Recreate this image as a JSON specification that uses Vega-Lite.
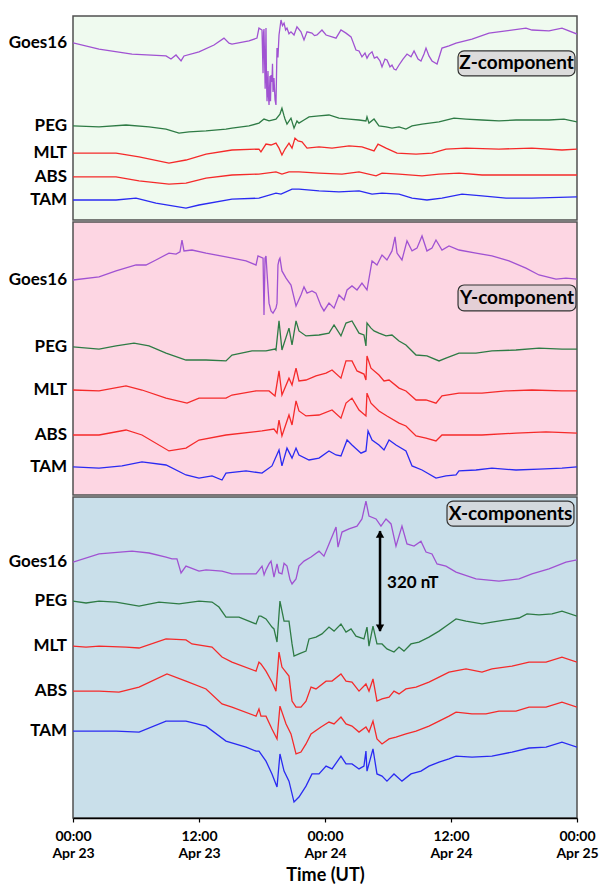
{
  "$schema": "https://vega.github.io/schema/vega-lite/v6.json",
  "padding": {"left": 7, "top": 15, "right": 0, "bottom": 2},
  "background": "white",
  "spacing": 0,
  "config": {
    "font": "Lato",
    "view": {"stroke": "#505050", "strokeWidth": 1.5}
  },
  "datasets": {
    "tags": [
      {"comp": "Z", "tag": "Z-component"},
      {"comp": "Y", "tag": "Y-component"},
      {"comp": "X", "tag": "X-components"}
    ],
    "span": [
      {"low": 598, "high": 918, "label": "320 nT"}
    ]
  },
  "data": {"values": [
    {"comp":"Z","station":"Goes16","hour":0,"nT":567},{"comp":"Z","station":"Goes16","hour":2.48,"nT":547},{"comp":"Z","station":"Goes16","hour":5.62,"nT":531},{"comp":"Z","station":"Goes16","hour":8.86,"nT":525},{"comp":"Z","station":"Goes16","hour":9.33,"nT":515},{"comp":"Z","station":"Goes16","hour":9.81,"nT":528},{"comp":"Z","station":"Goes16","hour":10.29,"nT":509},{"comp":"Z","station":"Goes16","hour":10.57,"nT":525},{"comp":"Z","station":"Goes16","hour":12.0,"nT":538},{"comp":"Z","station":"Goes16","hour":13.43,"nT":560},{"comp":"Z","station":"Goes16","hour":14.38,"nT":582},{"comp":"Z","station":"Goes16","hour":14.86,"nT":566},{"comp":"Z","station":"Goes16","hour":15.14,"nT":563},{"comp":"Z","station":"Goes16","hour":16.76,"nT":573},{"comp":"Z","station":"Goes16","hour":17.52,"nT":582},{"comp":"Z","station":"Goes16","hour":17.71,"nT":614},{"comp":"Z","station":"Goes16","hour":18.0,"nT":608},{"comp":"Z","station":"Goes16","hour":18.1,"nT":470},{"comp":"Z","station":"Goes16","hour":18.15,"nT":600},{"comp":"Z","station":"Goes16","hour":18.19,"nT":611},{"comp":"Z","station":"Goes16","hour":18.3,"nT":420},{"comp":"Z","station":"Goes16","hour":18.38,"nT":614},{"comp":"Z","station":"Goes16","hour":18.43,"nT":445},{"comp":"Z","station":"Goes16","hour":18.48,"nT":380},{"comp":"Z","station":"Goes16","hour":18.57,"nT":477},{"comp":"Z","station":"Goes16","hour":18.62,"nT":395},{"comp":"Z","station":"Goes16","hour":18.67,"nT":368},{"comp":"Z","station":"Goes16","hour":18.76,"nT":461},{"comp":"Z","station":"Goes16","hour":18.81,"nT":380},{"comp":"Z","station":"Goes16","hour":18.86,"nT":464},{"comp":"Z","station":"Goes16","hour":18.95,"nT":442},{"comp":"Z","station":"Goes16","hour":19.0,"nT":500},{"comp":"Z","station":"Goes16","hour":19.05,"nT":410},{"comp":"Z","station":"Goes16","hour":19.14,"nT":454},{"comp":"Z","station":"Goes16","hour":19.24,"nT":385},{"comp":"Z","station":"Goes16","hour":19.33,"nT":368},{"comp":"Z","station":"Goes16","hour":19.43,"nT":550},{"comp":"Z","station":"Goes16","hour":19.52,"nT":520},{"comp":"Z","station":"Goes16","hour":19.62,"nT":592},{"comp":"Z","station":"Goes16","hour":19.81,"nT":640},{"comp":"Z","station":"Goes16","hour":19.95,"nT":622},{"comp":"Z","station":"Goes16","hour":20.10,"nT":630},{"comp":"Z","station":"Goes16","hour":20.25,"nT":608},{"comp":"Z","station":"Goes16","hour":20.38,"nT":614},{"comp":"Z","station":"Goes16","hour":20.57,"nT":596},{"comp":"Z","station":"Goes16","hour":20.76,"nT":602},{"comp":"Z","station":"Goes16","hour":21.05,"nT":592},{"comp":"Z","station":"Goes16","hour":21.33,"nT":618},{"comp":"Z","station":"Goes16","hour":21.71,"nT":602},{"comp":"Z","station":"Goes16","hour":22.0,"nT":576},{"comp":"Z","station":"Goes16","hour":22.29,"nT":602},{"comp":"Z","station":"Goes16","hour":22.76,"nT":598},{"comp":"Z","station":"Goes16","hour":23.0,"nT":590},{"comp":"Z","station":"Goes16","hour":23.24,"nT":592},{"comp":"Z","station":"Goes16","hour":23.71,"nT":608},{"comp":"Z","station":"Goes16","hour":24.10,"nT":592},{"comp":"Z","station":"Goes16","hour":24.67,"nT":586},{"comp":"Z","station":"Goes16","hour":25.05,"nT":582},{"comp":"Z","station":"Goes16","hour":25.52,"nT":608},{"comp":"Z","station":"Goes16","hour":26.0,"nT":598},{"comp":"Z","station":"Goes16","hour":26.48,"nT":586},{"comp":"Z","station":"Goes16","hour":26.95,"nT":544},{"comp":"Z","station":"Goes16","hour":27.24,"nT":541},{"comp":"Z","station":"Goes16","hour":27.52,"nT":522},{"comp":"Z","station":"Goes16","hour":27.81,"nT":534},{"comp":"Z","station":"Goes16","hour":28.0,"nT":518},{"comp":"Z","station":"Goes16","hour":28.2,"nT":530},{"comp":"Z","station":"Goes16","hour":28.48,"nT":538},{"comp":"Z","station":"Goes16","hour":28.7,"nT":518},{"comp":"Z","station":"Goes16","hour":28.95,"nT":522},{"comp":"Z","station":"Goes16","hour":29.24,"nT":509},{"comp":"Z","station":"Goes16","hour":29.43,"nT":490},{"comp":"Z","station":"Goes16","hour":29.71,"nT":515},{"comp":"Z","station":"Goes16","hour":29.90,"nT":512},{"comp":"Z","station":"Goes16","hour":30.19,"nT":490},{"comp":"Z","station":"Goes16","hour":30.38,"nT":496},{"comp":"Z","station":"Goes16","hour":30.57,"nT":483},{"comp":"Z","station":"Goes16","hour":30.76,"nT":480},{"comp":"Z","station":"Goes16","hour":31.05,"nT":496},{"comp":"Z","station":"Goes16","hour":31.43,"nT":515},{"comp":"Z","station":"Goes16","hour":31.81,"nT":531},{"comp":"Z","station":"Goes16","hour":32.19,"nT":522},{"comp":"Z","station":"Goes16","hour":32.48,"nT":541},{"comp":"Z","station":"Goes16","hour":32.86,"nT":515},{"comp":"Z","station":"Goes16","hour":33.14,"nT":509},{"comp":"Z","station":"Goes16","hour":33.43,"nT":531},{"comp":"Z","station":"Goes16","hour":33.62,"nT":550},{"comp":"Z","station":"Goes16","hour":33.90,"nT":525},{"comp":"Z","station":"Goes16","hour":34.19,"nT":509},{"comp":"Z","station":"Goes16","hour":34.67,"nT":499},{"comp":"Z","station":"Goes16","hour":35.14,"nT":550},{"comp":"Z","station":"Goes16","hour":35.81,"nT":557},{"comp":"Z","station":"Goes16","hour":36.48,"nT":566},{"comp":"Z","station":"Goes16","hour":38.0,"nT":579},{"comp":"Z","station":"Goes16","hour":39.62,"nT":598},{"comp":"Z","station":"Goes16","hour":41.24,"nT":605},{"comp":"Z","station":"Goes16","hour":43.14,"nT":614},{"comp":"Z","station":"Goes16","hour":43.71,"nT":608},{"comp":"Z","station":"Goes16","hour":45.33,"nT":605},{"comp":"Z","station":"Goes16","hour":46.57,"nT":614},{"comp":"Z","station":"Goes16","hour":48,"nT":595},

    {"comp":"Z","station":"PEG","hour":0,"nT":301},{"comp":"Z","station":"PEG","hour":2.48,"nT":298},{"comp":"Z","station":"PEG","hour":5.05,"nT":304},{"comp":"Z","station":"PEG","hour":7.24,"nT":298},{"comp":"Z","station":"PEG","hour":8.86,"nT":291},{"comp":"Z","station":"PEG","hour":10.10,"nT":278},{"comp":"Z","station":"PEG","hour":11.05,"nT":282},{"comp":"Z","station":"PEG","hour":12.67,"nT":285},{"comp":"Z","station":"PEG","hour":14.57,"nT":291},{"comp":"Z","station":"PEG","hour":15.14,"nT":294},{"comp":"Z","station":"PEG","hour":16.76,"nT":301},{"comp":"Z","station":"PEG","hour":17.71,"nT":310},{"comp":"Z","station":"PEG","hour":18.19,"nT":323},{"comp":"Z","station":"PEG","hour":18.67,"nT":317},{"comp":"Z","station":"PEG","hour":19.33,"nT":323},{"comp":"Z","station":"PEG","hour":19.71,"nT":339},{"comp":"Z","station":"PEG","hour":19.90,"nT":358},{"comp":"Z","station":"PEG","hour":20.10,"nT":333},{"comp":"Z","station":"PEG","hour":20.19,"nT":323},{"comp":"Z","station":"PEG","hour":20.38,"nT":307},{"comp":"Z","station":"PEG","hour":20.76,"nT":326},{"comp":"Z","station":"PEG","hour":21.05,"nT":294},{"comp":"Z","station":"PEG","hour":21.33,"nT":317},{"comp":"Z","station":"PEG","hour":21.52,"nT":310},{"comp":"Z","station":"PEG","hour":22.0,"nT":320},{"comp":"Z","station":"PEG","hour":22.48,"nT":330},{"comp":"Z","station":"PEG","hour":23.43,"nT":333},{"comp":"Z","station":"PEG","hour":24.38,"nT":336},{"comp":"Z","station":"PEG","hour":25.33,"nT":326},{"comp":"Z","station":"PEG","hour":26.29,"nT":323},{"comp":"Z","station":"PEG","hour":27.24,"nT":320},{"comp":"Z","station":"PEG","hour":27.90,"nT":317},{"comp":"Z","station":"PEG","hour":28.0,"nT":330},{"comp":"Z","station":"PEG","hour":28.19,"nT":310},{"comp":"Z","station":"PEG","hour":28.67,"nT":323},{"comp":"Z","station":"PEG","hour":29.14,"nT":301},{"comp":"Z","station":"PEG","hour":29.81,"nT":298},{"comp":"Z","station":"PEG","hour":30.38,"nT":294},{"comp":"Z","station":"PEG","hour":31.05,"nT":298},{"comp":"Z","station":"PEG","hour":31.71,"nT":291},{"comp":"Z","station":"PEG","hour":32.29,"nT":301},{"comp":"Z","station":"PEG","hour":33.24,"nT":307},{"comp":"Z","station":"PEG","hour":34.86,"nT":314},{"comp":"Z","station":"PEG","hour":36.29,"nT":326},{"comp":"Z","station":"PEG","hour":37.43,"nT":323},{"comp":"Z","station":"PEG","hour":38.95,"nT":320},{"comp":"Z","station":"PEG","hour":40.57,"nT":317},{"comp":"Z","station":"PEG","hour":42.19,"nT":320},{"comp":"Z","station":"PEG","hour":43.71,"nT":320},{"comp":"Z","station":"PEG","hour":45.33,"nT":320},{"comp":"Z","station":"PEG","hour":46.76,"nT":323},{"comp":"Z","station":"PEG","hour":48,"nT":314},

    {"comp":"Z","station":"MLT","hour":0,"nT":214},{"comp":"Z","station":"MLT","hour":4.10,"nT":214},{"comp":"Z","station":"MLT","hour":6.29,"nT":202},{"comp":"Z","station":"MLT","hour":9.14,"nT":182},{"comp":"Z","station":"MLT","hour":10.76,"nT":192},{"comp":"Z","station":"MLT","hour":12.67,"nT":211},{"comp":"Z","station":"MLT","hour":15.14,"nT":224},{"comp":"Z","station":"MLT","hour":17.71,"nT":227},{"comp":"Z","station":"MLT","hour":17.90,"nT":218},{"comp":"Z","station":"MLT","hour":18.38,"nT":243},{"comp":"Z","station":"MLT","hour":18.86,"nT":240},{"comp":"Z","station":"MLT","hour":19.33,"nT":246},{"comp":"Z","station":"MLT","hour":19.62,"nT":230},{"comp":"Z","station":"MLT","hour":19.90,"nT":208},{"comp":"Z","station":"MLT","hour":20.19,"nT":227},{"comp":"Z","station":"MLT","hour":20.57,"nT":246},{"comp":"Z","station":"MLT","hour":20.86,"nT":230},{"comp":"Z","station":"MLT","hour":21.14,"nT":262},{"comp":"Z","station":"MLT","hour":21.43,"nT":253},{"comp":"Z","station":"MLT","hour":21.81,"nT":250},{"comp":"Z","station":"MLT","hour":22.29,"nT":230},{"comp":"Z","station":"MLT","hour":23.43,"nT":234},{"comp":"Z","station":"MLT","hour":24.67,"nT":230},{"comp":"Z","station":"MLT","hour":26.29,"nT":237},{"comp":"Z","station":"MLT","hour":27.52,"nT":234},{"comp":"Z","station":"MLT","hour":28.67,"nT":221},{"comp":"Z","station":"MLT","hour":29.05,"nT":243},{"comp":"Z","station":"MLT","hour":29.81,"nT":230},{"comp":"Z","station":"MLT","hour":30.86,"nT":214},{"comp":"Z","station":"MLT","hour":32.67,"nT":211},{"comp":"Z","station":"MLT","hour":34.19,"nT":214},{"comp":"Z","station":"MLT","hour":35.52,"nT":227},{"comp":"Z","station":"MLT","hour":37.43,"nT":230},{"comp":"Z","station":"MLT","hour":40.57,"nT":227},{"comp":"Z","station":"MLT","hour":43.71,"nT":230},{"comp":"Z","station":"MLT","hour":46.57,"nT":224},{"comp":"Z","station":"MLT","hour":48,"nT":227},

    {"comp":"Z","station":"ABS","hour":0,"nT":138},{"comp":"Z","station":"ABS","hour":4.10,"nT":138},{"comp":"Z","station":"ABS","hour":6.29,"nT":125},{"comp":"Z","station":"ABS","hour":9.14,"nT":115},{"comp":"Z","station":"ABS","hour":10.76,"nT":118},{"comp":"Z","station":"ABS","hour":12.67,"nT":134},{"comp":"Z","station":"ABS","hour":15.14,"nT":144},{"comp":"Z","station":"ABS","hour":17.71,"nT":147},{"comp":"Z","station":"ABS","hour":19.33,"nT":154},{"comp":"Z","station":"ABS","hour":19.90,"nT":147},{"comp":"Z","station":"ABS","hour":20.57,"nT":154},{"comp":"Z","station":"ABS","hour":21.52,"nT":154},{"comp":"Z","station":"ABS","hour":23.43,"nT":150},{"comp":"Z","station":"ABS","hour":25.62,"nT":147},{"comp":"Z","station":"ABS","hour":27.24,"nT":154},{"comp":"Z","station":"ABS","hour":28.86,"nT":141},{"comp":"Z","station":"ABS","hour":29.43,"nT":150},{"comp":"Z","station":"ABS","hour":31.05,"nT":147},{"comp":"Z","station":"ABS","hour":33.24,"nT":141},{"comp":"Z","station":"ABS","hour":34.86,"nT":147},{"comp":"Z","station":"ABS","hour":36.76,"nT":150},{"comp":"Z","station":"ABS","hour":38.95,"nT":144},{"comp":"Z","station":"ABS","hour":48,"nT":144},

    {"comp":"Z","station":"TAM","hour":0,"nT":64},{"comp":"Z","station":"TAM","hour":4.10,"nT":64},{"comp":"Z","station":"TAM","hour":6.0,"nT":70},{"comp":"Z","station":"TAM","hour":7.90,"nT":54},{"comp":"Z","station":"TAM","hour":10.76,"nT":38},{"comp":"Z","station":"TAM","hour":12.0,"nT":48},{"comp":"Z","station":"TAM","hour":15.14,"nT":67},{"comp":"Z","station":"TAM","hour":17.71,"nT":70},{"comp":"Z","station":"TAM","hour":19.33,"nT":86},{"comp":"Z","station":"TAM","hour":19.81,"nT":83},{"comp":"Z","station":"TAM","hour":20.86,"nT":99},{"comp":"Z","station":"TAM","hour":21.52,"nT":99},{"comp":"Z","station":"TAM","hour":23.43,"nT":93},{"comp":"Z","station":"TAM","hour":25.33,"nT":90},{"comp":"Z","station":"TAM","hour":27.24,"nT":93},{"comp":"Z","station":"TAM","hour":28.48,"nT":83},{"comp":"Z","station":"TAM","hour":29.43,"nT":86},{"comp":"Z","station":"TAM","hour":31.05,"nT":83},{"comp":"Z","station":"TAM","hour":32.29,"nT":70},{"comp":"Z","station":"TAM","hour":33.71,"nT":64},{"comp":"Z","station":"TAM","hour":35.14,"nT":70},{"comp":"Z","station":"TAM","hour":37.05,"nT":83},{"comp":"Z","station":"TAM","hour":38.95,"nT":77},{"comp":"Z","station":"TAM","hour":41.24,"nT":70},{"comp":"Z","station":"TAM","hour":43.71,"nT":70},{"comp":"Z","station":"TAM","hour":48,"nT":74},

    {"comp":"Y","station":"Goes16","hour":0,"nT":688},{"comp":"Y","station":"Goes16","hour":2.48,"nT":698},{"comp":"Y","station":"Goes16","hour":4.10,"nT":717},{"comp":"Y","station":"Goes16","hour":6.0,"nT":736},{"comp":"Y","station":"Goes16","hour":6.95,"nT":736},{"comp":"Y","station":"Goes16","hour":7.90,"nT":752},{"comp":"Y","station":"Goes16","hour":9.14,"nT":774},{"comp":"Y","station":"Goes16","hour":9.81,"nT":771},{"comp":"Y","station":"Goes16","hour":10.19,"nT":778},{"comp":"Y","station":"Goes16","hour":10.38,"nT":816},{"comp":"Y","station":"Goes16","hour":10.57,"nT":781},{"comp":"Y","station":"Goes16","hour":11.33,"nT":784},{"comp":"Y","station":"Goes16","hour":12.67,"nT":774},{"comp":"Y","station":"Goes16","hour":14.57,"nT":762},{"comp":"Y","station":"Goes16","hour":16.48,"nT":749},{"comp":"Y","station":"Goes16","hour":17.43,"nT":736},{"comp":"Y","station":"Goes16","hour":17.62,"nT":765},{"comp":"Y","station":"Goes16","hour":18.10,"nT":758},{"comp":"Y","station":"Goes16","hour":18.19,"nT":576},{"comp":"Y","station":"Goes16","hour":18.29,"nT":758},{"comp":"Y","station":"Goes16","hour":18.38,"nT":765},{"comp":"Y","station":"Goes16","hour":18.48,"nT":710},{"comp":"Y","station":"Goes16","hour":18.67,"nT":614},{"comp":"Y","station":"Goes16","hour":18.86,"nT":589},{"comp":"Y","station":"Goes16","hour":19.05,"nT":582},{"comp":"Y","station":"Goes16","hour":19.33,"nT":598},{"comp":"Y","station":"Goes16","hour":19.43,"nT":614},{"comp":"Y","station":"Goes16","hour":19.52,"nT":736},{"comp":"Y","station":"Goes16","hour":19.62,"nT":752},{"comp":"Y","station":"Goes16","hour":19.71,"nT":758},{"comp":"Y","station":"Goes16","hour":19.90,"nT":717},{"comp":"Y","station":"Goes16","hour":20.29,"nT":694},{"comp":"Y","station":"Goes16","hour":20.76,"nT":672},{"comp":"Y","station":"Goes16","hour":21.24,"nT":605},{"comp":"Y","station":"Goes16","hour":21.71,"nT":640},{"comp":"Y","station":"Goes16","hour":22.0,"nT":666},{"comp":"Y","station":"Goes16","hour":22.29,"nT":646},{"comp":"Y","station":"Goes16","hour":22.76,"nT":653},{"comp":"Y","station":"Goes16","hour":23.14,"nT":646},{"comp":"Y","station":"Goes16","hour":23.62,"nT":605},{"comp":"Y","station":"Goes16","hour":23.90,"nT":589},{"comp":"Y","station":"Goes16","hour":24.38,"nT":614},{"comp":"Y","station":"Goes16","hour":24.86,"nT":598},{"comp":"Y","station":"Goes16","hour":25.33,"nT":640},{"comp":"Y","station":"Goes16","hour":25.81,"nT":624},{"comp":"Y","station":"Goes16","hour":26.10,"nT":656},{"comp":"Y","station":"Goes16","hour":26.57,"nT":669},{"comp":"Y","station":"Goes16","hour":27.05,"nT":656},{"comp":"Y","station":"Goes16","hour":27.52,"nT":678},{"comp":"Y","station":"Goes16","hour":28.0,"nT":656},{"comp":"Y","station":"Goes16","hour":28.48,"nT":749},{"comp":"Y","station":"Goes16","hour":28.95,"nT":736},{"comp":"Y","station":"Goes16","hour":29.43,"nT":768},{"comp":"Y","station":"Goes16","hour":29.90,"nT":752},{"comp":"Y","station":"Goes16","hour":30.38,"nT":781},{"comp":"Y","station":"Goes16","hour":30.67,"nT":826},{"comp":"Y","station":"Goes16","hour":30.86,"nT":774},{"comp":"Y","station":"Goes16","hour":31.33,"nT":752},{"comp":"Y","station":"Goes16","hour":31.81,"nT":813},{"comp":"Y","station":"Goes16","hour":32.29,"nT":781},{"comp":"Y","station":"Goes16","hour":32.76,"nT":790},{"comp":"Y","station":"Goes16","hour":33.24,"nT":829},{"comp":"Y","station":"Goes16","hour":33.71,"nT":781},{"comp":"Y","station":"Goes16","hour":34.19,"nT":790},{"comp":"Y","station":"Goes16","hour":34.57,"nT":816},{"comp":"Y","station":"Goes16","hour":35.14,"nT":784},{"comp":"Y","station":"Goes16","hour":35.81,"nT":797},{"comp":"Y","station":"Goes16","hour":36.76,"nT":784},{"comp":"Y","station":"Goes16","hour":38.38,"nT":774},{"comp":"Y","station":"Goes16","hour":39.90,"nT":765},{"comp":"Y","station":"Goes16","hour":41.52,"nT":749},{"comp":"Y","station":"Goes16","hour":43.14,"nT":726},{"comp":"Y","station":"Goes16","hour":44.38,"nT":704},{"comp":"Y","station":"Goes16","hour":46.0,"nT":691},{"comp":"Y","station":"Goes16","hour":46.95,"nT":694},{"comp":"Y","station":"Goes16","hour":48,"nT":691},

    {"comp":"Y","station":"PEG","hour":0,"nT":474},{"comp":"Y","station":"PEG","hour":2.48,"nT":467},{"comp":"Y","station":"PEG","hour":4.10,"nT":477},{"comp":"Y","station":"PEG","hour":5.81,"nT":486},{"comp":"Y","station":"PEG","hour":7.24,"nT":477},{"comp":"Y","station":"PEG","hour":8.86,"nT":454},{"comp":"Y","station":"PEG","hour":10.76,"nT":432},{"comp":"Y","station":"PEG","hour":12.67,"nT":432},{"comp":"Y","station":"PEG","hour":14.57,"nT":429},{"comp":"Y","station":"PEG","hour":15.14,"nT":448},{"comp":"Y","station":"PEG","hour":17.05,"nT":461},{"comp":"Y","station":"PEG","hour":18.38,"nT":461},{"comp":"Y","station":"PEG","hour":19.24,"nT":467},{"comp":"Y","station":"PEG","hour":19.33,"nT":464},{"comp":"Y","station":"PEG","hour":19.62,"nT":557},{"comp":"Y","station":"PEG","hour":19.90,"nT":464},{"comp":"Y","station":"PEG","hour":20.57,"nT":534},{"comp":"Y","station":"PEG","hour":20.86,"nT":480},{"comp":"Y","station":"PEG","hour":21.24,"nT":557},{"comp":"Y","station":"PEG","hour":21.52,"nT":525},{"comp":"Y","station":"PEG","hour":22.19,"nT":509},{"comp":"Y","station":"PEG","hour":23.43,"nT":512},{"comp":"Y","station":"PEG","hour":24.38,"nT":518},{"comp":"Y","station":"PEG","hour":24.86,"nT":544},{"comp":"Y","station":"PEG","hour":25.52,"nT":509},{"comp":"Y","station":"PEG","hour":26.0,"nT":550},{"comp":"Y","station":"PEG","hour":26.57,"nT":557},{"comp":"Y","station":"PEG","hour":27.24,"nT":518},{"comp":"Y","station":"PEG","hour":27.71,"nT":512},{"comp":"Y","station":"PEG","hour":27.90,"nT":477},{"comp":"Y","station":"PEG","hour":28.0,"nT":550},{"comp":"Y","station":"PEG","hour":28.38,"nT":534},{"comp":"Y","station":"PEG","hour":28.67,"nT":525},{"comp":"Y","station":"PEG","hour":29.14,"nT":518},{"comp":"Y","station":"PEG","hour":29.81,"nT":509},{"comp":"Y","station":"PEG","hour":30.38,"nT":512},{"comp":"Y","station":"PEG","hour":31.05,"nT":493},{"comp":"Y","station":"PEG","hour":31.71,"nT":480},{"comp":"Y","station":"PEG","hour":32.67,"nT":448},{"comp":"Y","station":"PEG","hour":33.71,"nT":445},{"comp":"Y","station":"PEG","hour":34.86,"nT":429},{"comp":"Y","station":"PEG","hour":35.52,"nT":438},{"comp":"Y","station":"PEG","hour":36.76,"nT":454},{"comp":"Y","station":"PEG","hour":38.38,"nT":454},{"comp":"Y","station":"PEG","hour":39.90,"nT":461},{"comp":"Y","station":"PEG","hour":42.19,"nT":464},{"comp":"Y","station":"PEG","hour":44.38,"nT":470},{"comp":"Y","station":"PEG","hour":46.57,"nT":467},{"comp":"Y","station":"PEG","hour":48,"nT":467},

    {"comp":"Y","station":"MLT","hour":0,"nT":336},{"comp":"Y","station":"MLT","hour":2.48,"nT":333},{"comp":"Y","station":"MLT","hour":5.05,"nT":349},{"comp":"Y","station":"MLT","hour":6.57,"nT":336},{"comp":"Y","station":"MLT","hour":8.86,"nT":310},{"comp":"Y","station":"MLT","hour":10.86,"nT":294},{"comp":"Y","station":"MLT","hour":12.0,"nT":310},{"comp":"Y","station":"MLT","hour":14.57,"nT":310},{"comp":"Y","station":"MLT","hour":15.14,"nT":320},{"comp":"Y","station":"MLT","hour":17.43,"nT":333},{"comp":"Y","station":"MLT","hour":18.67,"nT":333},{"comp":"Y","station":"MLT","hour":19.24,"nT":317},{"comp":"Y","station":"MLT","hour":19.62,"nT":397},{"comp":"Y","station":"MLT","hour":19.90,"nT":320},{"comp":"Y","station":"MLT","hour":20.57,"nT":374},{"comp":"Y","station":"MLT","hour":20.86,"nT":352},{"comp":"Y","station":"MLT","hour":21.24,"nT":406},{"comp":"Y","station":"MLT","hour":21.52,"nT":365},{"comp":"Y","station":"MLT","hour":22.19,"nT":368},{"comp":"Y","station":"MLT","hour":23.14,"nT":381},{"comp":"Y","station":"MLT","hour":24.10,"nT":390},{"comp":"Y","station":"MLT","hour":24.67,"nT":400},{"comp":"Y","station":"MLT","hour":25.52,"nT":374},{"comp":"Y","station":"MLT","hour":26.0,"nT":429},{"comp":"Y","station":"MLT","hour":26.57,"nT":429},{"comp":"Y","station":"MLT","hour":27.05,"nT":397},{"comp":"Y","station":"MLT","hour":27.71,"nT":387},{"comp":"Y","station":"MLT","hour":27.90,"nT":368},{"comp":"Y","station":"MLT","hour":28.0,"nT":445},{"comp":"Y","station":"MLT","hour":28.38,"nT":406},{"comp":"Y","station":"MLT","hour":29.14,"nT":384},{"comp":"Y","station":"MLT","hour":29.62,"nT":365},{"comp":"Y","station":"MLT","hour":30.10,"nT":368},{"comp":"Y","station":"MLT","hour":31.05,"nT":342},{"comp":"Y","station":"MLT","hour":31.71,"nT":333},{"comp":"Y","station":"MLT","hour":32.67,"nT":304},{"comp":"Y","station":"MLT","hour":33.62,"nT":304},{"comp":"Y","station":"MLT","hour":34.57,"nT":294},{"comp":"Y","station":"MLT","hour":35.14,"nT":317},{"comp":"Y","station":"MLT","hour":36.76,"nT":326},{"comp":"Y","station":"MLT","hour":38.95,"nT":326},{"comp":"Y","station":"MLT","hour":41.24,"nT":333},{"comp":"Y","station":"MLT","hour":43.71,"nT":336},{"comp":"Y","station":"MLT","hour":46.57,"nT":333},{"comp":"Y","station":"MLT","hour":48,"nT":333},

    {"comp":"Y","station":"ABS","hour":0,"nT":192},{"comp":"Y","station":"ABS","hour":2.48,"nT":192},{"comp":"Y","station":"ABS","hour":5.05,"nT":208},{"comp":"Y","station":"ABS","hour":6.57,"nT":192},{"comp":"Y","station":"ABS","hour":9.14,"nT":141},{"comp":"Y","station":"ABS","hour":10.76,"nT":150},{"comp":"Y","station":"ABS","hour":12.0,"nT":176},{"comp":"Y","station":"ABS","hour":14.57,"nT":192},{"comp":"Y","station":"ABS","hour":18.0,"nT":205},{"comp":"Y","station":"ABS","hour":19.14,"nT":211},{"comp":"Y","station":"ABS","hour":19.43,"nT":198},{"comp":"Y","station":"ABS","hour":19.62,"nT":240},{"comp":"Y","station":"ABS","hour":19.90,"nT":189},{"comp":"Y","station":"ABS","hour":20.57,"nT":256},{"comp":"Y","station":"ABS","hour":20.86,"nT":224},{"comp":"Y","station":"ABS","hour":21.24,"nT":301},{"comp":"Y","station":"ABS","hour":21.52,"nT":269},{"comp":"Y","station":"ABS","hour":22.19,"nT":253},{"comp":"Y","station":"ABS","hour":23.43,"nT":256},{"comp":"Y","station":"ABS","hour":24.67,"nT":272},{"comp":"Y","station":"ABS","hour":25.52,"nT":246},{"comp":"Y","station":"ABS","hour":26.0,"nT":294},{"comp":"Y","station":"ABS","hour":26.57,"nT":310},{"comp":"Y","station":"ABS","hour":27.24,"nT":272},{"comp":"Y","station":"ABS","hour":27.90,"nT":253},{"comp":"Y","station":"ABS","hour":28.0,"nT":326},{"comp":"Y","station":"ABS","hour":28.38,"nT":294},{"comp":"Y","station":"ABS","hour":29.14,"nT":269},{"comp":"Y","station":"ABS","hour":29.90,"nT":253},{"comp":"Y","station":"ABS","hour":31.05,"nT":230},{"comp":"Y","station":"ABS","hour":31.71,"nT":221},{"comp":"Y","station":"ABS","hour":32.67,"nT":189},{"comp":"Y","station":"ABS","hour":33.62,"nT":182},{"comp":"Y","station":"ABS","hour":34.57,"nT":173},{"comp":"Y","station":"ABS","hour":35.14,"nT":192},{"comp":"Y","station":"ABS","hour":36.76,"nT":192},{"comp":"Y","station":"ABS","hour":38.95,"nT":192},{"comp":"Y","station":"ABS","hour":42.19,"nT":198},{"comp":"Y","station":"ABS","hour":45.05,"nT":202},{"comp":"Y","station":"ABS","hour":48,"nT":198},

    {"comp":"Y","station":"TAM","hour":0,"nT":90},{"comp":"Y","station":"TAM","hour":2.48,"nT":86},{"comp":"Y","station":"TAM","hour":4.67,"nT":93},{"comp":"Y","station":"TAM","hour":6.57,"nT":106},{"comp":"Y","station":"TAM","hour":8.86,"nT":96},{"comp":"Y","station":"TAM","hour":10.76,"nT":64},{"comp":"Y","station":"TAM","hour":12.0,"nT":54},{"comp":"Y","station":"TAM","hour":13.24,"nT":61},{"comp":"Y","station":"TAM","hour":14.19,"nT":48},{"comp":"Y","station":"TAM","hour":14.57,"nT":70},{"comp":"Y","station":"TAM","hour":16.48,"nT":77},{"comp":"Y","station":"TAM","hour":18.0,"nT":70},{"comp":"Y","station":"TAM","hour":18.95,"nT":93},{"comp":"Y","station":"TAM","hour":19.62,"nT":144},{"comp":"Y","station":"TAM","hour":19.90,"nT":93},{"comp":"Y","station":"TAM","hour":20.38,"nT":150},{"comp":"Y","station":"TAM","hour":20.86,"nT":118},{"comp":"Y","station":"TAM","hour":21.24,"nT":150},{"comp":"Y","station":"TAM","hour":21.52,"nT":128},{"comp":"Y","station":"TAM","hour":22.48,"nT":112},{"comp":"Y","station":"TAM","hour":23.43,"nT":118},{"comp":"Y","station":"TAM","hour":24.38,"nT":141},{"comp":"Y","station":"TAM","hour":25.05,"nT":128},{"comp":"Y","station":"TAM","hour":25.52,"nT":125},{"comp":"Y","station":"TAM","hour":26.10,"nT":176},{"comp":"Y","station":"TAM","hour":26.57,"nT":160},{"comp":"Y","station":"TAM","hour":27.43,"nT":134},{"comp":"Y","station":"TAM","hour":27.90,"nT":141},{"comp":"Y","station":"TAM","hour":28.10,"nT":205},{"comp":"Y","station":"TAM","hour":28.48,"nT":176},{"comp":"Y","station":"TAM","hour":29.14,"nT":160},{"comp":"Y","station":"TAM","hour":29.62,"nT":144},{"comp":"Y","station":"TAM","hour":30.10,"nT":176},{"comp":"Y","station":"TAM","hour":30.76,"nT":160},{"comp":"Y","station":"TAM","hour":31.71,"nT":141},{"comp":"Y","station":"TAM","hour":32.29,"nT":93},{"comp":"Y","station":"TAM","hour":33.24,"nT":80},{"comp":"Y","station":"TAM","hour":34.57,"nT":54},{"comp":"Y","station":"TAM","hour":35.52,"nT":61},{"comp":"Y","station":"TAM","hour":36.48,"nT":64},{"comp":"Y","station":"TAM","hour":36.76,"nT":77},{"comp":"Y","station":"TAM","hour":38.38,"nT":80},{"comp":"Y","station":"TAM","hour":39.90,"nT":86},{"comp":"Y","station":"TAM","hour":42.19,"nT":80},{"comp":"Y","station":"TAM","hour":44.38,"nT":83},{"comp":"Y","station":"TAM","hour":46.57,"nT":86},{"comp":"Y","station":"TAM","hour":48,"nT":90},

    {"comp":"X","station":"Goes16","hour":0,"nT":819},{"comp":"X","station":"Goes16","hour":2.48,"nT":845},{"comp":"X","station":"Goes16","hour":5.62,"nT":854},{"comp":"X","station":"Goes16","hour":7.24,"nT":848},{"comp":"X","station":"Goes16","hour":8.86,"nT":835},{"comp":"X","station":"Goes16","hour":9.43,"nT":829},{"comp":"X","station":"Goes16","hour":9.90,"nT":829},{"comp":"X","station":"Goes16","hour":10.29,"nT":784},{"comp":"X","station":"Goes16","hour":10.76,"nT":806},{"comp":"X","station":"Goes16","hour":12.0,"nT":790},{"comp":"X","station":"Goes16","hour":12.67,"nT":794},{"comp":"X","station":"Goes16","hour":14.19,"nT":790},{"comp":"X","station":"Goes16","hour":15.14,"nT":781},{"comp":"X","station":"Goes16","hour":17.43,"nT":781},{"comp":"X","station":"Goes16","hour":18.0,"nT":806},{"comp":"X","station":"Goes16","hour":18.2,"nT":778},{"comp":"X","station":"Goes16","hour":18.38,"nT":794},{"comp":"X","station":"Goes16","hour":18.67,"nT":813},{"comp":"X","station":"Goes16","hour":18.86,"nT":822},{"comp":"X","station":"Goes16","hour":19.14,"nT":771},{"comp":"X","station":"Goes16","hour":19.43,"nT":813},{"comp":"X","station":"Goes16","hour":19.6,"nT":785},{"comp":"X","station":"Goes16","hour":19.90,"nT":781},{"comp":"X","station":"Goes16","hour":20.1,"nT":815},{"comp":"X","station":"Goes16","hour":20.38,"nT":806},{"comp":"X","station":"Goes16","hour":20.67,"nT":762},{"comp":"X","station":"Goes16","hour":20.86,"nT":749},{"comp":"X","station":"Goes16","hour":21.24,"nT":765},{"comp":"X","station":"Goes16","hour":21.52,"nT":806},{"comp":"X","station":"Goes16","hour":22.0,"nT":822},{"comp":"X","station":"Goes16","hour":22.67,"nT":835},{"comp":"X","station":"Goes16","hour":23.43,"nT":854},{"comp":"X","station":"Goes16","hour":23.90,"nT":838},{"comp":"X","station":"Goes16","hour":24.38,"nT":877},{"comp":"X","station":"Goes16","hour":25.05,"nT":931},{"comp":"X","station":"Goes16","hour":25.24,"nT":867},{"comp":"X","station":"Goes16","hour":25.62,"nT":915},{"comp":"X","station":"Goes16","hour":26.29,"nT":925},{"comp":"X","station":"Goes16","hour":27.05,"nT":934},{"comp":"X","station":"Goes16","hour":27.52,"nT":957},{"comp":"X","station":"Goes16","hour":27.90,"nT":1014},{"comp":"X","station":"Goes16","hour":28.19,"nT":966},{"comp":"X","station":"Goes16","hour":28.86,"nT":957},{"comp":"X","station":"Goes16","hour":29.33,"nT":934},{"comp":"X","station":"Goes16","hour":29.81,"nT":957},{"comp":"X","station":"Goes16","hour":30.29,"nT":941},{"comp":"X","station":"Goes16","hour":30.76,"nT":870},{"comp":"X","station":"Goes16","hour":31.33,"nT":934},{"comp":"X","station":"Goes16","hour":31.81,"nT":877},{"comp":"X","station":"Goes16","hour":32.48,"nT":870},{"comp":"X","station":"Goes16","hour":33.14,"nT":886},{"comp":"X","station":"Goes16","hour":33.62,"nT":851},{"comp":"X","station":"Goes16","hour":34.19,"nT":845},{"comp":"X","station":"Goes16","hour":34.67,"nT":813},{"comp":"X","station":"Goes16","hour":35.52,"nT":806},{"comp":"X","station":"Goes16","hour":36.48,"nT":787},{"comp":"X","station":"Goes16","hour":38.38,"nT":765},{"comp":"X","station":"Goes16","hour":40.57,"nT":758},{"comp":"X","station":"Goes16","hour":42.48,"nT":765},{"comp":"X","station":"Goes16","hour":43.71,"nT":781},{"comp":"X","station":"Goes16","hour":45.33,"nT":797},{"comp":"X","station":"Goes16","hour":46.95,"nT":819},{"comp":"X","station":"Goes16","hour":48,"nT":826},

    {"comp":"X","station":"PEG","hour":0,"nT":694},{"comp":"X","station":"PEG","hour":1.24,"nT":688},{"comp":"X","station":"PEG","hour":2.48,"nT":694},{"comp":"X","station":"PEG","hour":4.10,"nT":691},{"comp":"X","station":"PEG","hour":6.29,"nT":678},{"comp":"X","station":"PEG","hour":8.19,"nT":691},{"comp":"X","station":"PEG","hour":10.10,"nT":685},{"comp":"X","station":"PEG","hour":12.0,"nT":694},{"comp":"X","station":"PEG","hour":13.24,"nT":691},{"comp":"X","station":"PEG","hour":13.90,"nT":675},{"comp":"X","station":"PEG","hour":14.57,"nT":643},{"comp":"X","station":"PEG","hour":15.81,"nT":643},{"comp":"X","station":"PEG","hour":17.43,"nT":621},{"comp":"X","station":"PEG","hour":17.71,"nT":646},{"comp":"X","station":"PEG","hour":17.90,"nT":646},{"comp":"X","station":"PEG","hour":18.38,"nT":637},{"comp":"X","station":"PEG","hour":18.95,"nT":611},{"comp":"X","station":"PEG","hour":19.14,"nT":605},{"comp":"X","station":"PEG","hour":19.43,"nT":563},{"comp":"X","station":"PEG","hour":19.71,"nT":694},{"comp":"X","station":"PEG","hour":20.10,"nT":630},{"comp":"X","station":"PEG","hour":20.57,"nT":630},{"comp":"X","station":"PEG","hour":20.86,"nT":557},{"comp":"X","station":"PEG","hour":21.05,"nT":518},{"comp":"X","station":"PEG","hour":21.52,"nT":525},{"comp":"X","station":"PEG","hour":22.19,"nT":534},{"comp":"X","station":"PEG","hour":22.48,"nT":573},{"comp":"X","station":"PEG","hour":23.14,"nT":579},{"comp":"X","station":"PEG","hour":23.71,"nT":589},{"comp":"X","station":"PEG","hour":24.38,"nT":611},{"comp":"X","station":"PEG","hour":24.86,"nT":598},{"comp":"X","station":"PEG","hour":25.52,"nT":621},{"comp":"X","station":"PEG","hour":26.0,"nT":595},{"comp":"X","station":"PEG","hour":26.48,"nT":605},{"comp":"X","station":"PEG","hour":26.95,"nT":582},{"comp":"X","station":"PEG","hour":27.71,"nT":573},{"comp":"X","station":"PEG","hour":28.0,"nT":611},{"comp":"X","station":"PEG","hour":28.19,"nT":550},{"comp":"X","station":"PEG","hour":28.57,"nT":614},{"comp":"X","station":"PEG","hour":28.95,"nT":557},{"comp":"X","station":"PEG","hour":29.43,"nT":557},{"comp":"X","station":"PEG","hour":29.90,"nT":541},{"comp":"X","station":"PEG","hour":30.57,"nT":531},{"comp":"X","station":"PEG","hour":31.05,"nT":547},{"comp":"X","station":"PEG","hour":31.52,"nT":534},{"comp":"X","station":"PEG","hour":32.19,"nT":557},{"comp":"X","station":"PEG","hour":32.95,"nT":563},{"comp":"X","station":"PEG","hour":33.90,"nT":579},{"comp":"X","station":"PEG","hour":34.86,"nT":598},{"comp":"X","station":"PEG","hour":35.81,"nT":621},{"comp":"X","station":"PEG","hour":36.48,"nT":637},{"comp":"X","station":"PEG","hour":37.43,"nT":630},{"comp":"X","station":"PEG","hour":38.95,"nT":621},{"comp":"X","station":"PEG","hour":39.90,"nT":627},{"comp":"X","station":"PEG","hour":41.24,"nT":634},{"comp":"X","station":"PEG","hour":42.48,"nT":640},{"comp":"X","station":"PEG","hour":43.24,"nT":653},{"comp":"X","station":"PEG","hour":44.38,"nT":650},{"comp":"X","station":"PEG","hour":45.62,"nT":653},{"comp":"X","station":"PEG","hour":46.57,"nT":662},{"comp":"X","station":"PEG","hour":48,"nT":646},

    {"comp":"X","station":"MLT","hour":0,"nT":550},{"comp":"X","station":"MLT","hour":1.24,"nT":547},{"comp":"X","station":"MLT","hour":2.48,"nT":550},{"comp":"X","station":"MLT","hour":5.05,"nT":547},{"comp":"X","station":"MLT","hour":6.29,"nT":544},{"comp":"X","station":"MLT","hour":8.86,"nT":573},{"comp":"X","station":"MLT","hour":10.76,"nT":570},{"comp":"X","station":"MLT","hour":11.33,"nT":557},{"comp":"X","station":"MLT","hour":13.24,"nT":547},{"comp":"X","station":"MLT","hour":14.19,"nT":515},{"comp":"X","station":"MLT","hour":15.14,"nT":499},{"comp":"X","station":"MLT","hour":17.43,"nT":470},{"comp":"X","station":"MLT","hour":17.71,"nT":499},{"comp":"X","station":"MLT","hour":17.90,"nT":493},{"comp":"X","station":"MLT","hour":18.38,"nT":470},{"comp":"X","station":"MLT","hour":18.95,"nT":435},{"comp":"X","station":"MLT","hour":19.33,"nT":406},{"comp":"X","station":"MLT","hour":19.62,"nT":531},{"comp":"X","station":"MLT","hour":19.90,"nT":483},{"comp":"X","station":"MLT","hour":20.57,"nT":454},{"comp":"X","station":"MLT","hour":20.86,"nT":374},{"comp":"X","station":"MLT","hour":21.24,"nT":355},{"comp":"X","station":"MLT","hour":21.71,"nT":355},{"comp":"X","station":"MLT","hour":22.19,"nT":374},{"comp":"X","station":"MLT","hour":22.67,"nT":419},{"comp":"X","station":"MLT","hour":23.14,"nT":413},{"comp":"X","station":"MLT","hour":24.10,"nT":438},{"comp":"X","station":"MLT","hour":24.67,"nT":438},{"comp":"X","station":"MLT","hour":25.52,"nT":461},{"comp":"X","station":"MLT","hour":26.0,"nT":438},{"comp":"X","station":"MLT","hour":26.57,"nT":435},{"comp":"X","station":"MLT","hour":27.24,"nT":406},{"comp":"X","station":"MLT","hour":27.90,"nT":429},{"comp":"X","station":"MLT","hour":28.19,"nT":406},{"comp":"X","station":"MLT","hour":28.57,"nT":445},{"comp":"X","station":"MLT","hour":28.95,"nT":374},{"comp":"X","station":"MLT","hour":29.43,"nT":381},{"comp":"X","station":"MLT","hour":30.10,"nT":387},{"comp":"X","station":"MLT","hour":30.57,"nT":406},{"comp":"X","station":"MLT","hour":31.05,"nT":397},{"comp":"X","station":"MLT","hour":31.71,"nT":413},{"comp":"X","station":"MLT","hour":32.67,"nT":419},{"comp":"X","station":"MLT","hour":33.90,"nT":435},{"comp":"X","station":"MLT","hour":34.86,"nT":451},{"comp":"X","station":"MLT","hour":35.81,"nT":467},{"comp":"X","station":"MLT","hour":37.43,"nT":477},{"comp":"X","station":"MLT","hour":38.95,"nT":467},{"comp":"X","station":"MLT","hour":39.90,"nT":477},{"comp":"X","station":"MLT","hour":41.81,"nT":486},{"comp":"X","station":"MLT","hour":43.43,"nT":499},{"comp":"X","station":"MLT","hour":45.05,"nT":499},{"comp":"X","station":"MLT","hour":46.57,"nT":515},{"comp":"X","station":"MLT","hour":48,"nT":499},

    {"comp":"X","station":"ABS","hour":0,"nT":406},{"comp":"X","station":"ABS","hour":2.48,"nT":406},{"comp":"X","station":"ABS","hour":4.38,"nT":403},{"comp":"X","station":"ABS","hour":6.29,"nT":419},{"comp":"X","station":"ABS","hour":8.95,"nT":461},{"comp":"X","station":"ABS","hour":10.76,"nT":438},{"comp":"X","station":"ABS","hour":12.67,"nT":413},{"comp":"X","station":"ABS","hour":14.19,"nT":365},{"comp":"X","station":"ABS","hour":15.14,"nT":355},{"comp":"X","station":"ABS","hour":17.43,"nT":326},{"comp":"X","station":"ABS","hour":17.71,"nT":349},{"comp":"X","station":"ABS","hour":17.90,"nT":326},{"comp":"X","station":"ABS","hour":18.38,"nT":326},{"comp":"X","station":"ABS","hour":18.95,"nT":285},{"comp":"X","station":"ABS","hour":19.43,"nT":253},{"comp":"X","station":"ABS","hour":19.71,"nT":358},{"comp":"X","station":"ABS","hour":20.29,"nT":301},{"comp":"X","station":"ABS","hour":20.76,"nT":269},{"comp":"X","station":"ABS","hour":21.24,"nT":205},{"comp":"X","station":"ABS","hour":21.71,"nT":211},{"comp":"X","station":"ABS","hour":22.19,"nT":237},{"comp":"X","station":"ABS","hour":22.67,"nT":269},{"comp":"X","station":"ABS","hour":23.62,"nT":291},{"comp":"X","station":"ABS","hour":24.38,"nT":307},{"comp":"X","station":"ABS","hour":24.86,"nT":301},{"comp":"X","station":"ABS","hour":25.52,"nT":323},{"comp":"X","station":"ABS","hour":26.0,"nT":301},{"comp":"X","station":"ABS","hour":26.57,"nT":294},{"comp":"X","station":"ABS","hour":27.24,"nT":275},{"comp":"X","station":"ABS","hour":27.90,"nT":291},{"comp":"X","station":"ABS","hour":28.19,"nT":275},{"comp":"X","station":"ABS","hour":28.57,"nT":310},{"comp":"X","station":"ABS","hour":28.95,"nT":253},{"comp":"X","station":"ABS","hour":29.43,"nT":237},{"comp":"X","station":"ABS","hour":30.10,"nT":253},{"comp":"X","station":"ABS","hour":30.76,"nT":259},{"comp":"X","station":"ABS","hour":31.71,"nT":269},{"comp":"X","station":"ABS","hour":32.67,"nT":278},{"comp":"X","station":"ABS","hour":33.90,"nT":294},{"comp":"X","station":"ABS","hour":34.86,"nT":310},{"comp":"X","station":"ABS","hour":35.81,"nT":326},{"comp":"X","station":"ABS","hour":36.48,"nT":339},{"comp":"X","station":"ABS","hour":38.0,"nT":333},{"comp":"X","station":"ABS","hour":39.33,"nT":333},{"comp":"X","station":"ABS","hour":40.57,"nT":342},{"comp":"X","station":"ABS","hour":42.19,"nT":342},{"comp":"X","station":"ABS","hour":43.43,"nT":355},{"comp":"X","station":"ABS","hour":45.05,"nT":355},{"comp":"X","station":"ABS","hour":46.57,"nT":371},{"comp":"X","station":"ABS","hour":48,"nT":355},

    {"comp":"X","station":"TAM","hour":0,"nT":278},{"comp":"X","station":"TAM","hour":2.48,"nT":278},{"comp":"X","station":"TAM","hour":4.10,"nT":278},{"comp":"X","station":"TAM","hour":6.29,"nT":275},{"comp":"X","station":"TAM","hour":8.86,"nT":310},{"comp":"X","station":"TAM","hour":10.76,"nT":310},{"comp":"X","station":"TAM","hour":12.67,"nT":294},{"comp":"X","station":"TAM","hour":14.57,"nT":246},{"comp":"X","station":"TAM","hour":16.48,"nT":227},{"comp":"X","station":"TAM","hour":17.43,"nT":214},{"comp":"X","station":"TAM","hour":17.71,"nT":214},{"comp":"X","station":"TAM","hour":18.38,"nT":182},{"comp":"X","station":"TAM","hour":18.95,"nT":141},{"comp":"X","station":"TAM","hour":19.43,"nT":99},{"comp":"X","station":"TAM","hour":19.71,"nT":205},{"comp":"X","station":"TAM","hour":20.10,"nT":150},{"comp":"X","station":"TAM","hour":20.57,"nT":118},{"comp":"X","station":"TAM","hour":21.05,"nT":51},{"comp":"X","station":"TAM","hour":21.52,"nT":67},{"comp":"X","station":"TAM","hour":22.19,"nT":102},{"comp":"X","station":"TAM","hour":22.76,"nT":141},{"comp":"X","station":"TAM","hour":23.43,"nT":141},{"comp":"X","station":"TAM","hour":24.10,"nT":166},{"comp":"X","station":"TAM","hour":24.67,"nT":157},{"comp":"X","station":"TAM","hour":25.52,"nT":198},{"comp":"X","station":"TAM","hour":26.0,"nT":173},{"comp":"X","station":"TAM","hour":26.57,"nT":173},{"comp":"X","station":"TAM","hour":27.24,"nT":157},{"comp":"X","station":"TAM","hour":27.71,"nT":166},{"comp":"X","station":"TAM","hour":27.90,"nT":214},{"comp":"X","station":"TAM","hour":28.0,"nT":150},{"comp":"X","station":"TAM","hour":28.57,"nT":221},{"comp":"X","station":"TAM","hour":28.95,"nT":141},{"comp":"X","station":"TAM","hour":29.43,"nT":134},{"comp":"X","station":"TAM","hour":29.90,"nT":118},{"comp":"X","station":"TAM","hour":30.57,"nT":141},{"comp":"X","station":"TAM","hour":31.33,"nT":118},{"comp":"X","station":"TAM","hour":32.19,"nT":141},{"comp":"X","station":"TAM","hour":33.14,"nT":150},{"comp":"X","station":"TAM","hour":33.90,"nT":166},{"comp":"X","station":"TAM","hour":34.86,"nT":179},{"comp":"X","station":"TAM","hour":35.81,"nT":189},{"comp":"X","station":"TAM","hour":36.48,"nT":198},{"comp":"X","station":"TAM","hour":38.0,"nT":195},{"comp":"X","station":"TAM","hour":39.90,"nT":198},{"comp":"X","station":"TAM","hour":41.81,"nT":211},{"comp":"X","station":"TAM","hour":43.43,"nT":224},{"comp":"X","station":"TAM","hour":45.05,"nT":227},{"comp":"X","station":"TAM","hour":46.57,"nT":243},{"comp":"X","station":"TAM","hour":48,"nT":227}
  ]},
  "vconcat": [
    {
      "width": 504,
      "height": 204,
      "view": {"fill": "#effaef"},
      "layer": [
        {
          "transform": [{"filter": "datum.comp == 'Z'"}],
          "mark": {"type": "line", "strokeWidth": 1.3, "clip": true},
          "encoding": {
            "x": {"field": "hour", "type": "quantitative", "scale": {"domain": [0, 48], "nice": false}, "axis": null},
            "y": {"field": "nT", "type": "quantitative", "scale": {"domain": [0, 652.8], "nice": false, "zero": false}, "axis": null},
            "color": {"field": "station", "type": "nominal", "legend": null,
              "scale": {"domain": ["Goes16", "PEG", "MLT", "ABS", "TAM"], "range": ["#a052d2", "#2e7b45", "#f52a2a", "#f52a2a", "#2a2af2"]}}
          }
        },
        {
          "transform": [{"filter": "datum.comp == 'Z' && datum.hour == 0"}],
          "mark": {"type": "text", "align": "right", "baseline": "middle", "dx": -6, "fontSize": 17, "fontWeight": "bold", "color": "black"},
          "encoding": {
            "x": {"field": "hour", "type": "quantitative"},
            "y": {"field": "nT", "type": "quantitative"},
            "text": {"field": "station"}
          }
        },
        {
          "data": {"name": "tags"},
          "transform": [{"filter": "datum.comp == 'Z'"}],
          "mark": {"type": "rect", "fill": "#dcdcdc", "stroke": "#333333", "strokeWidth": 1.2, "cornerRadius": 6},
          "encoding": {
            "x": {"datum": 36.67, "type": "quantitative"}, "x2": {"datum": 47.81},
            "y": {"datum": 461, "type": "quantitative"}, "y2": {"datum": 541}
          }
        },
        {
          "data": {"name": "tags"},
          "transform": [{"filter": "datum.comp == 'Z'"}],
          "mark": {"type": "text", "fontSize": 19, "fontWeight": "bold", "color": "black", "baseline": "middle"},
          "encoding": {
            "x": {"datum": 42.24, "type": "quantitative"},
            "y": {"datum": 501, "type": "quantitative"},
            "text": {"field": "tag"}
          }
        }
      ]
    },
    {
      "width": 504,
      "height": 273,
      "view": {"fill": "#fdd6e3"},
      "layer": [
        {
          "transform": [{"filter": "datum.comp == 'Y'"}],
          "mark": {"type": "line", "strokeWidth": 1.3, "clip": true},
          "encoding": {
            "x": {"field": "hour", "type": "quantitative", "scale": {"domain": [0, 48], "nice": false}, "axis": null},
            "y": {"field": "nT", "type": "quantitative", "scale": {"domain": [0, 873.6], "nice": false, "zero": false}, "axis": null},
            "color": {"field": "station", "type": "nominal", "legend": null,
              "scale": {"domain": ["Goes16", "PEG", "MLT", "ABS", "TAM"], "range": ["#a052d2", "#2e7b45", "#f52a2a", "#f52a2a", "#2a2af2"]}}
          }
        },
        {
          "transform": [{"filter": "datum.comp == 'Y' && datum.hour == 0"}],
          "mark": {"type": "text", "align": "right", "baseline": "middle", "dx": -6, "fontSize": 17, "fontWeight": "bold", "color": "black"},
          "encoding": {
            "x": {"field": "hour", "type": "quantitative"},
            "y": {"field": "nT", "type": "quantitative"},
            "text": {"field": "station"}
          }
        },
        {
          "data": {"name": "tags"},
          "transform": [{"filter": "datum.comp == 'Y'"}],
          "mark": {"type": "rect", "fill": "#e3cfd6", "stroke": "#333333", "strokeWidth": 1.2, "cornerRadius": 6},
          "encoding": {
            "x": {"datum": 36.67, "type": "quantitative"}, "x2": {"datum": 47.9},
            "y": {"datum": 589, "type": "quantitative"}, "y2": {"datum": 672}
          }
        },
        {
          "data": {"name": "tags"},
          "transform": [{"filter": "datum.comp == 'Y'"}],
          "mark": {"type": "text", "fontSize": 19, "fontWeight": "bold", "color": "black", "baseline": "middle"},
          "encoding": {
            "x": {"datum": 42.29, "type": "quantitative"},
            "y": {"datum": 630, "type": "quantitative"},
            "text": {"field": "tag"}
          }
        }
      ]
    },
    {
      "width": 504,
      "height": 321,
      "view": {"fill": "#c9dfea"},
      "layer": [
        {
          "transform": [{"filter": "datum.comp == 'X'"}],
          "mark": {"type": "line", "strokeWidth": 1.3, "clip": true},
          "encoding": {
            "x": {"field": "hour", "type": "quantitative", "scale": {"domain": [0, 48], "nice": false},
              "axis": {
                "values": [0, 12, 24, 36, 48],
                "labelExpr": "[datum.value % 24 == 0 ? '00:00' : '12:00', datum.value < 24 ? 'Apr 23' : (datum.value < 48 ? 'Apr 24' : 'Apr 25')]",
                "title": "Time (UT)",
                "titleFontSize": 18, "titleFontWeight": "bold", "titleColor": "black", "titlePadding": 6,
                "labelFontSize": 14, "labelFontWeight": "bold", "labelColor": "black", "labelLineHeight": 17,
                "labelFlush": false, "labelOverlap": false, "labelPadding": 7,
                "tickColor": "black", "tickSize": 4, "tickWidth": 1.2,
                "domainColor": "black", "domainWidth": 1.5, "grid": false
              }},
            "y": {"field": "nT", "type": "quantitative", "scale": {"domain": [0, 1027.2], "nice": false, "zero": false}, "axis": null},
            "color": {"field": "station", "type": "nominal", "legend": null,
              "scale": {"domain": ["Goes16", "PEG", "MLT", "ABS", "TAM"], "range": ["#a052d2", "#2e7b45", "#f52a2a", "#f52a2a", "#2a2af2"]}}
          }
        },
        {
          "transform": [{"filter": "datum.comp == 'X' && datum.hour == 0"}],
          "mark": {"type": "text", "align": "right", "baseline": "middle", "dx": -6, "fontSize": 17, "fontWeight": "bold", "color": "black"},
          "encoding": {
            "x": {"field": "hour", "type": "quantitative"},
            "y": {"field": "nT", "type": "quantitative"},
            "text": {"field": "station"}
          }
        },
        {
          "data": {"name": "tags"},
          "transform": [{"filter": "datum.comp == 'X'"}],
          "mark": {"type": "rect", "fill": "#d3d9de", "stroke": "#333333", "strokeWidth": 1.2, "cornerRadius": 6},
          "encoding": {
            "x": {"datum": 35.62, "type": "quantitative"}, "x2": {"datum": 47.71},
            "y": {"datum": 934, "type": "quantitative"}, "y2": {"datum": 1014}
          }
        },
        {
          "data": {"name": "tags"},
          "transform": [{"filter": "datum.comp == 'X'"}],
          "mark": {"type": "text", "fontSize": 19, "fontWeight": "bold", "color": "black", "baseline": "middle"},
          "encoding": {
            "x": {"datum": 41.67, "type": "quantitative"},
            "y": {"datum": 974, "type": "quantitative"},
            "text": {"field": "tag"}
          }
        },
        {
          "data": {"name": "span"},
          "mark": {"type": "rule", "strokeWidth": 2.5, "color": "black"},
          "encoding": {
            "x": {"datum": 29.24, "type": "quantitative"},
            "y": {"field": "low", "type": "quantitative"},
            "y2": {"field": "high"}
          }
        },
        {
          "data": {"name": "span"},
          "mark": {"type": "point", "shape": "triangle-down", "filled": true, "size": 70, "color": "black", "opacity": 1, "yOffset": -3},
          "encoding": {
            "x": {"datum": 29.24, "type": "quantitative"},
            "y": {"field": "low", "type": "quantitative"}
          }
        },
        {
          "data": {"name": "span"},
          "mark": {"type": "point", "shape": "triangle-up", "filled": true, "size": 70, "color": "black", "opacity": 1, "yOffset": 3},
          "encoding": {
            "x": {"datum": 29.24, "type": "quantitative"},
            "y": {"field": "high", "type": "quantitative"}
          }
        },
        {
          "data": {"name": "span"},
          "mark": {"type": "text", "align": "left", "baseline": "middle", "dx": 7, "fontSize": 17, "fontWeight": "bold", "color": "black"},
          "encoding": {
            "x": {"datum": 29.24, "type": "quantitative"},
            "y": {"datum": 752, "type": "quantitative"},
            "text": {"field": "label"}
          }
        }
      ]
    }
  ]
}
